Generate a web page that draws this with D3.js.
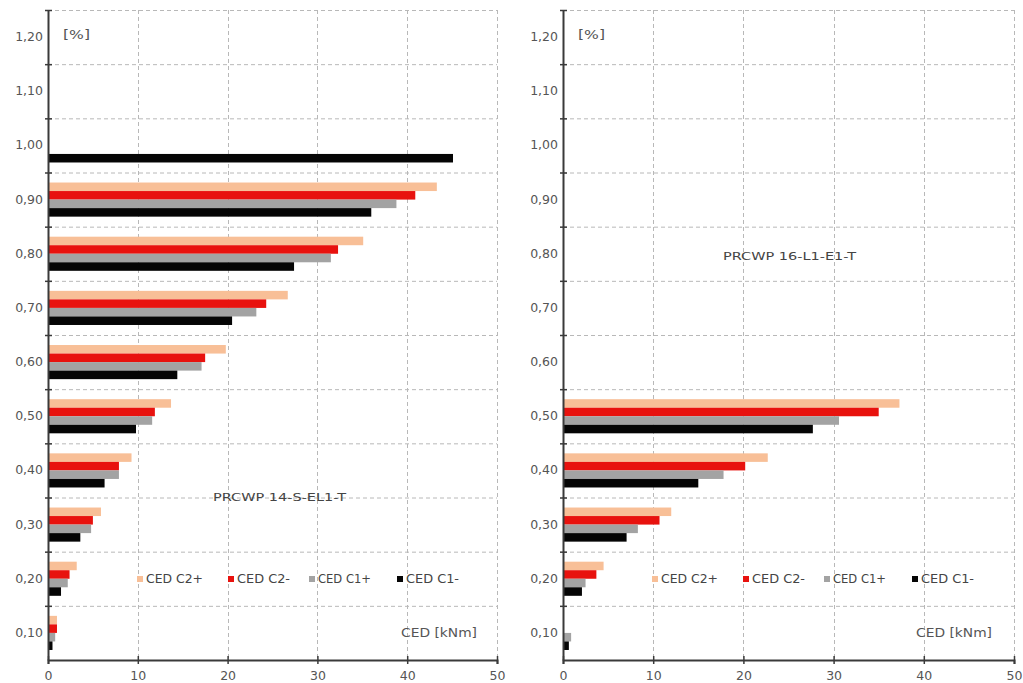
<!DOCTYPE html>
<html>
<head>
<meta charset="utf-8">
<script src="https://cdn.jsdelivr.net/npm/d3@7"></script>
<style>
  html, body { margin: 0; padding: 0; background: #fff; }
  svg { display: block; font-family: "DejaVu Sans", Verdana, sans-serif; }
</style>
</head>
<body>
<svg id="chart" width="1023" height="683"></svg>
<script>
// Drift ratio levels (y categories), bottom to top
const levels = ["0.10", "0.20", "0.30", "0.40", "0.50", "0.60", "0.70", "0.80", "0.90", "1.00", "1.10", "1.20"];
const levelLabels = ["0,10", "0,20", "0,30", "0,40", "0,50", "0,60", "0,70", "0,80", "0,90", "1,00", "1,10", "1,20"];
const xTicks = [0, 10, 20, 30, 40, 50];

const seriesNames = ["CED C2+", "CED C2-", "CED C1+", "CED C1-"];
const seriesColors = ["#f8bf97", "#e8120e", "#a3a3a3", "#050505"];

// PRCWP 14-S-EL1-T, cumulative energy dissipation per cycle group [kNm]
const left_C2p = [1.0, 3.2, 5.9, 9.3, 13.7, 19.8, 26.7, 35.1, 43.3, null, null, null];
const left_C2m = [1.0, 2.4, 5.0, 7.9, 11.9, 17.5, 24.3, 32.3, 40.9, null, null, null];
const left_C1p = [0.8, 2.2, 4.8, 7.9, 11.6, 17.1, 23.2, 31.5, 38.8, null, null, null];
const left_C1m = [0.5, 1.45, 3.6, 6.3, 9.8, 14.4, 20.5, 27.4, 36.0, 45.1, null, null];

// PRCWP 16-L1-E1-T
const right_C2p = [null, 4.5, 12.0, 22.7, 37.3, null, null, null, null, null, null, null];
const right_C2m = [null, 3.7, 10.7, 20.2, 35.0, null, null, null, null, null, null, null];
const right_C1p = [0.9, 2.5, 8.3, 17.8, 30.6, null, null, null, null, null, null, null];
const right_C1m = [0.65, 2.1, 7.05, 15.0, 27.7, null, null, null, null, null, null, null];

const svg = d3.select("#chart");

// legend text offsets from the panel's y axis
const legendTextDx = [98, 189, 270, 358];

function drawPanel(cfg) {
  const g = svg.append("g");
  const x = d3.scaleLinear().domain([0, 50]).range([cfg.x0, cfg.x1]);
  const y = d3.scaleBand().domain(levels.slice().reverse()).range([10, 660]).padding(0);
  const bw = y.bandwidth();
  const inner = d3.scaleBand().domain(seriesNames).range([bw * 0.185, bw * 0.815]).padding(0);

  // grid: band boundaries
  const bounds = levels.map(l => y(l)).concat([y.range()[1]]);
  g.append("g").selectAll("line.h").data(bounds.filter(b => b < 659))
    .join("line")
    .attr("x1", cfg.x0).attr("x2", cfg.x1)
    .attr("y1", d => d + 0.5).attr("y2", d => d + 0.5)
    .attr("stroke", "#b8b8b8").attr("stroke-width", 1)
    .attr("stroke-dasharray", "4,3");
  g.append("g").selectAll("line.v").data(xTicks.slice(1))
    .join("line")
    .attr("x1", d => Math.round(x(d)) + 0.5).attr("x2", d => Math.round(x(d)) + 0.5)
    .attr("y1", 10).attr("y2", 660)
    .attr("stroke", "#b8b8b8").attr("stroke-width", 1)
    .attr("stroke-dasharray", "4,3");

  // bars
  const valueSets = cfg.values;
  seriesNames.forEach((s, si) => {
    const rows = levels.map((l, i) => ({ level: l, v: valueSets[si][i] })).filter(d => d.v != null);
    g.append("g").selectAll("rect").data(rows).join("rect")
      .attr("x", x(0))
      .attr("y", d => y(d.level) + inner(s))
      .attr("width", d => x(d.v) - x(0))
      .attr("height", inner.bandwidth())
      .attr("fill", seriesColors[si]);
  });

  // x axis
  const xa = g.append("g").attr("transform", "translate(0,660)")
    .call(d3.axisBottom(x).tickValues(xTicks).tickFormat(d3.format("d")).tickSize(4).tickPadding(7));
  xa.select(".domain").attr("stroke", "#3a3a3a").attr("stroke-width", 2);
  xa.selectAll(".tick line").attr("y1", -4).attr("y2", 4).attr("stroke", "#3a3a3a").attr("stroke-width", 1.5);
  xa.selectAll(".tick text").attr("fill", "#555").style("font-size", "12.5px")
    .style("font-family", "DejaVu Sans, sans-serif");

  // y axis (labels centered in bands)
  const ya = g.append("g").attr("transform", `translate(${cfg.x0},0)`)
    .call(d3.axisLeft(y).tickSize(0).tickPadding(5).tickFormat(d => levelLabels[levels.indexOf(d)]));
  ya.select(".domain").attr("stroke", "#3a3a3a").attr("stroke-width", 2);
  ya.selectAll(".tick text").attr("fill", "#555").style("font-size", "12.5px")
    .style("font-family", "DejaVu Sans, sans-serif");
  // boundary tick crosses on y axis
  g.append("g").selectAll("line").data(bounds.filter(b => b < 659)).join("line")
    .attr("x1", cfg.x0 - 3).attr("x2", cfg.x0 + 4)
    .attr("y1", d => d + 0.5).attr("y2", d => d + 0.5)
    .attr("stroke", "#3a3a3a").attr("stroke-width", 1.5);

  const txt = (tx, ty, str, size, color, len) => {
    const t = g.append("text")
      .attr("x", tx).attr("y", ty).attr("dy", "0.35em")
      .attr("fill", color || "#555").style("font-size", size + "px").text(str);
    if (len) t.attr("textLength", len).attr("lengthAdjust", "spacingAndGlyphs");
    return t;
  };

  txt(cfg.x0 + 15, 35, "[%]", 11.5, "#555", 27);
  txt(cfg.x0 + 353, 633, "CED [kNm]", 11.5, "#555", 76);
  txt(cfg.x0 + cfg.titleDx, cfg.titleY, cfg.title, 11, "#444", 133);

  // legend
  seriesNames.forEach((s, si) => {
    const tx = cfg.x0 + legendTextDx[si];
    g.append("rect").attr("x", tx - 9).attr("y", 576).attr("width", 6).attr("height", 6)
      .attr("fill", seriesColors[si]);
    txt(tx, 579, s, 11.5, "#444", si < 1 ? 57 : 53);
  });
}

drawPanel({
  x0: 48, x1: 497,
  values: [left_C2p, left_C2m, left_C1p, left_C1m],
  title: "PRCWP 14-S-EL1-T", titleDx: 165, titleY: 497
});
drawPanel({
  x0: 563, x1: 1014,
  values: [right_C2p, right_C2m, right_C1p, right_C1m],
  title: "PRCWP 16-L1-E1-T", titleDx: 160, titleY: 256
});
</script>
</body>
</html>
